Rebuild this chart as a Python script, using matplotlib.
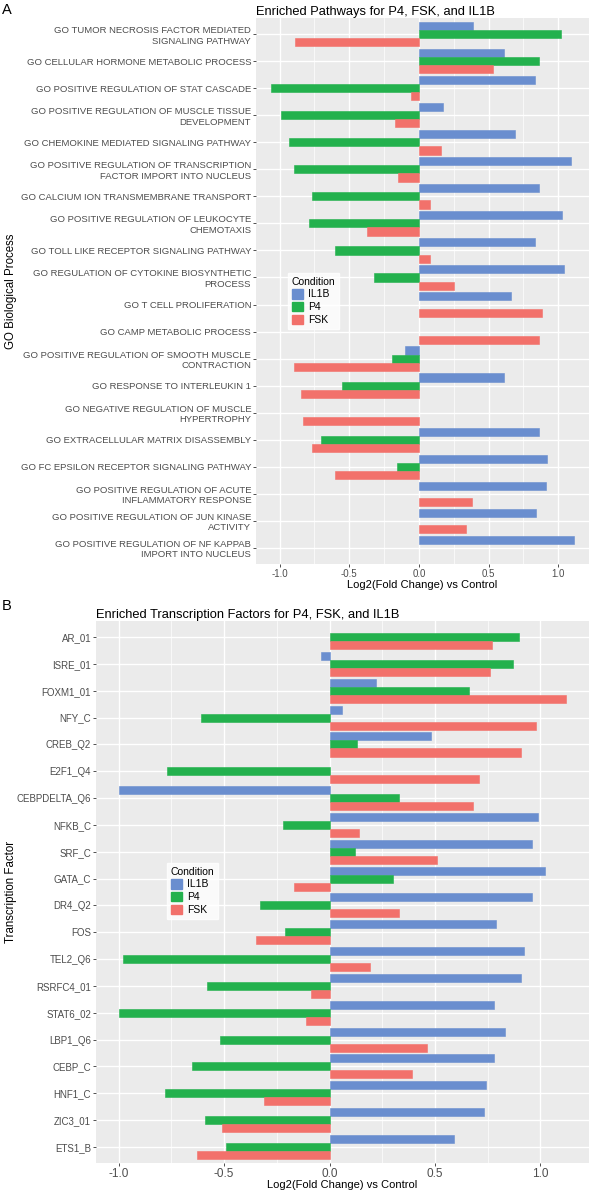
import matplotlib
matplotlib.use("Agg")
import matplotlib.pyplot as plt
from matplotlib.patches import Patch
from matplotlib.ticker import MultipleLocator
import numpy as np

plt.rcParams['font.family'] = ['Liberation Sans', 'DejaVu Sans']

conditions = ['IL1B', 'P4', 'FSK']
colors = {'IL1B': '#6A8ECF', 'P4': '#23B14D', 'FSK': '#F2716B'}

# panel A: GO biological processes (top to bottom)
go_terms = [
    "GO TUMOR NECROSIS FACTOR MEDIATED\nSIGNALING PATHWAY",
    "GO CELLULAR HORMONE METABOLIC PROCESS",
    "GO POSITIVE REGULATION OF STAT CASCADE",
    "GO POSITIVE REGULATION OF MUSCLE TISSUE\nDEVELOPMENT",
    "GO CHEMOKINE MEDIATED SIGNALING PATHWAY",
    "GO POSITIVE REGULATION OF TRANSCRIPTION\nFACTOR IMPORT INTO NUCLEUS",
    "GO CALCIUM ION TRANSMEMBRANE TRANSPORT",
    "GO POSITIVE REGULATION OF LEUKOCYTE\nCHEMOTAXIS",
    "GO TOLL LIKE RECEPTOR SIGNALING PATHWAY",
    "GO REGULATION OF CYTOKINE BIOSYNTHETIC\nPROCESS",
    "GO T CELL PROLIFERATION",
    "GO CAMP METABOLIC PROCESS",
    "GO POSITIVE REGULATION OF SMOOTH MUSCLE\nCONTRACTION",
    "GO RESPONSE TO INTERLEUKIN 1",
    "GO NEGATIVE REGULATION OF MUSCLE\nHYPERTROPHY",
    "GO EXTRACELLULAR MATRIX DISASSEMBLY",
    "GO FC EPSILON RECEPTOR SIGNALING PATHWAY",
    "GO POSITIVE REGULATION OF ACUTE\nINFLAMMATORY RESPONSE",
    "GO POSITIVE REGULATION OF JUN KINASE\nACTIVITY",
    "GO POSITIVE REGULATION OF NF KAPPAB\nIMPORT INTO NUCLEUS",
]
go_il1b = [0.39, 0.61, 0.83, 0.17, 0.69, 1.09, 0.86, 1.03, 0.83, 1.04,
           0.66, None, -0.10, 0.61, None, 0.86, 0.92, 0.91, 0.84, 1.11]
go_p4 = [1.02, 0.86, -1.06, -0.99, -0.93, -0.90, -0.77, -0.79, -0.60, -0.32,
         None, None, -0.19, -0.55, None, -0.70, -0.16, None, None, None]
go_fsk = [-0.89, 0.53, -0.06, -0.17, 0.16, -0.15, 0.08, -0.37, 0.08, 0.25,
          0.88, 0.86, -0.90, -0.85, -0.83, -0.77, -0.60, 0.38, 0.34, None]

# panel B: transcription factors (top to bottom)
tf_names = ['AR_01', 'ISRE_01', 'FOXM1_01', 'NFY_C', 'CREB_Q2', 'E2F1_Q4',
            'CEBPDELTA_Q6', 'NFKB_C', 'SRF_C', 'GATA_C', 'DR4_Q2', 'FOS',
            'TEL2_Q6', 'RSRFC4_01', 'STAT6_02', 'LBP1_Q6', 'CEBP_C', 'HNF1_C',
            'ZIC3_01', 'ETS1_B']
tf_il1b = [None, -0.04, 0.22, 0.06, 0.48, None, -1.00, 0.99, 0.96, 1.02,
           0.96, 0.79, 0.92, 0.91, 0.78, 0.83, 0.78, 0.74, 0.73, 0.59]
tf_p4 = [0.90, 0.87, 0.66, -0.61, 0.13, -0.77, 0.33, -0.22, 0.12, 0.30,
         -0.33, -0.21, -0.98, -0.58, -1.00, -0.52, -0.65, -0.78, -0.59, -0.49]
tf_fsk = [0.77, 0.76, 1.12, 0.98, 0.91, 0.71, 0.68, 0.14, 0.51, -0.17,
          0.33, -0.35, 0.19, -0.09, -0.11, 0.46, 0.39, -0.31, -0.51, -0.63]

W, H = 590, 1190
fig = plt.figure(figsize=(W / 100, H / 100), dpi=100)


def panel(rect, labels, series, title, ylab, xlim, tick_fs, xtick_fs, xlab_pad, leg_box):
    l, t, r, b = rect
    ax = fig.add_axes([l / W, 1 - b / H, (r - l) / W, (b - t) / H])
    ax.set_facecolor('#EBEBEB')
    n = len(labels)
    y = np.arange(n)
    offs = {'IL1B': -0.3, 'P4': 0.0, 'FSK': 0.3}
    for cond, vals in zip(conditions, series):
        v = np.array([np.nan if x is None else x for x in vals], dtype=float)
        m = ~np.isnan(v)
        ax.barh(y[m] + offs[cond], v[m], height=0.3, color=colors[cond],
                edgecolor=colors[cond], linewidth=0.4, zorder=3)
    ax.set_ylim(n - 1 + 0.6, -0.6)
    ax.set_xlim(*xlim)
    ax.set_yticks(y)
    ax.set_yticklabels(labels, fontsize=tick_fs, color='#4D4D4D',
                       multialignment='right', linespacing=1.2)
    ax.xaxis.set_minor_locator(MultipleLocator(0.25))
    ax.set_xticks([-1.0, -0.5, 0.0, 0.5, 1.0])
    ax.set_xticklabels(['-1.0', '-0.5', '0.0', '0.5', '1.0'],
                       fontsize=xtick_fs, color='#4D4D4D')
    ax.grid(which='major', color='white', linewidth=1.0, zorder=0)
    ax.grid(which='minor', axis='x', color='white', linewidth=0.5, zorder=0)
    ax.set_axisbelow(True)
    ax.tick_params(which='major', length=2, width=0.6, color='#333333', pad=1.5)
    ax.tick_params(which='minor', length=0)
    for s in ax.spines.values():
        s.set_visible(False)
    ax.set_title(title, fontsize=9.3, loc='left', pad=1.5)
    ax.set_xlabel('Log2(Fold Change) vs Control', fontsize=8, labelpad=xlab_pad)
    fig.text(11 / W, 1 - (t + b) / 2 / H, ylab, rotation=90, fontsize=8.3,
             ha='center', va='center')
    handles = [Patch(facecolor=colors[c], edgecolor=colors[c]) for c in conditions]
    lx, ly = leg_box
    leg = ax.legend(handles, conditions, title='Condition', loc='upper left',
                    bbox_to_anchor=(lx / W, 1 - ly / H), bbox_transform=fig.transFigure,
                    fontsize=7.5, title_fontsize=7.5, frameon=True, fancybox=False,
                    borderaxespad=0, borderpad=0.35, handlelength=1.1,
                    handleheight=1.0, handletextpad=0.5, labelspacing=0.25)
    leg.get_frame().set_edgecolor('white')
    leg.get_frame().set_facecolor('white')
    leg._legend_box.align = 'left'
    return ax


axA = panel((256, 18, 589, 564), go_terms, [go_il1b, go_p4, go_fsk],
            'Enriched Pathways for P4, FSK, and IL1B', 'GO Biological Process',
            (-1.170, 1.221), 6.8, 7, 1, (288, 273))
axB = panel((96, 621, 589, 1163), tf_names, [tf_il1b, tf_p4, tf_fsk],
            'Enriched Transcription Factors for P4, FSK, and IL1B', 'Transcription Factor',
            (-1.107, 1.230), 7, 8.5, 0, (167, 863))

fig.text(2 / W, 1 - 10 / H, 'A', fontsize=10.5, va='center', ha='left')
fig.text(2 / W, 1 - 606 / H, 'B', fontsize=10.5, va='center', ha='left')

fig.savefig('out.png', dpi=100)
